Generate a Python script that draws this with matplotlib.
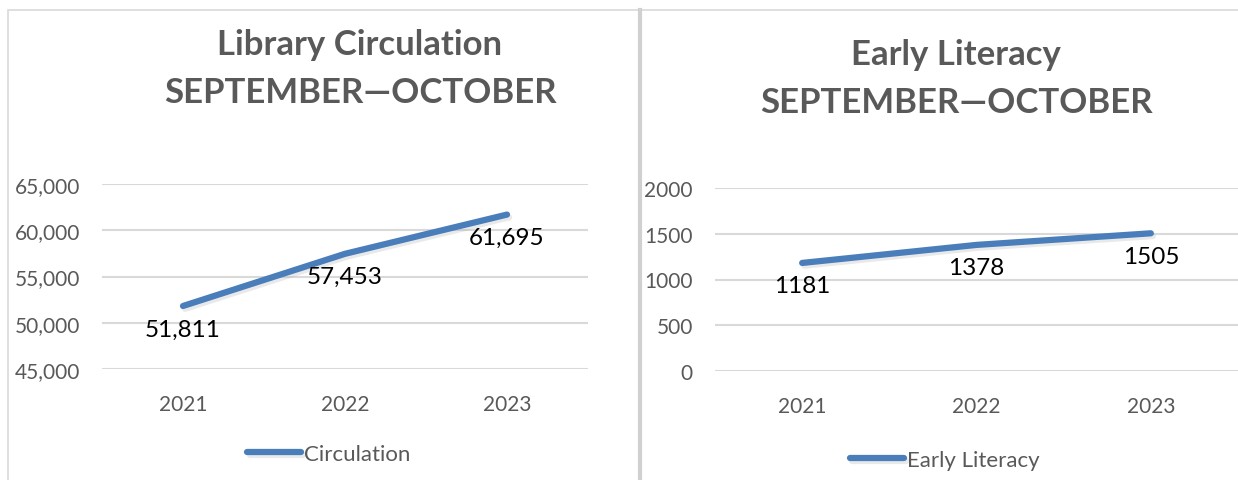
import matplotlib
matplotlib.use('Agg')
import matplotlib.pyplot as plt
import matplotlib.patheffects as pe
from matplotlib.patches import Rectangle

plt.rcParams['font.family'] = ['Lato', 'DejaVu Sans']

years = ['2021', '2022', '2023']
circulation = [51811, 57453, 61695]
circ_labels = ['51,811', '57,453', '61,695']
literacy = [1181, 1378, 1505]
lit_labels = ['1181', '1378', '1505']

blue = '#4a7ebb'
grey_text = '#595959'
grid_c = '#d9d9d9'

fig = plt.figure(figsize=(12.38, 4.81), dpi=100)
W, H = 1238, 481

# panel frames
fig.add_artist(Rectangle((8 / W, -0.1), 632 / W, 1.1 - 11 / H, transform=fig.transFigure,
                         fill=False, edgecolor=grid_c, lw=1.2))
fig.add_artist(Rectangle((640 / W, -0.1), 0.6, 1.1 - 11 / H, transform=fig.transFigure,
                         fill=False, edgecolor=grid_c, lw=1.2))
fig.add_artist(plt.Line2D([639.5 / W, 639.5 / W], [0, 1 - 11 / H], transform=fig.transFigure,
                          color='#d0d0d0', lw=3))


def panel(rect, vals, labels, ylim, yticks, yfmt, title, title_xy, series, leg_xy):
    ax = fig.add_axes(rect)
    x = range(len(years))
    ax.plot(x, vals, color=blue, lw=4.5, solid_capstyle='round', label=series,
            path_effects=[pe.SimpleLineShadow(offset=(1.5, -2), shadow_color='#aaaaaa', alpha=0.25),
                          pe.Normal()], zorder=3)
    for xi, v, lab in zip(x, vals, labels):
        ax.annotate(lab, (xi, v), xytext=(0, -9), textcoords='offset points',
                    ha='center', va='top', fontsize=17.5, color='black')
    ax.set_xlim(-0.5, len(years) - 0.5)
    ax.set_ylim(*ylim)
    ax.set_yticks(yticks)
    ax.set_yticklabels([yfmt(t) for t in yticks])
    ax.set_xticks(list(x))
    ax.set_xticklabels(years)
    ax.tick_params(length=0, labelsize=15, colors=grey_text)
    ax.tick_params(axis='x', pad=18)
    ax.tick_params(axis='y', pad=16)
    for s in ax.spines.values():
        s.set_visible(False)
    ax.grid(axis='y', color=grid_c, lw=1.5)
    ax.set_axisbelow(True)
    ax.patch.set_alpha(0)
    fig.text(title_xy[0], title_xy[1], title, ha='center', va='center', fontsize=25,
             fontweight='bold', color=grey_text, linespacing=1.6)
    fig.legend(handles=ax.get_lines()[:1], loc='center', bbox_to_anchor=leg_xy,
               frameon=False, fontsize=16, handlelength=2.4, handletextpad=0.15,
               labelcolor=grey_text)
    return ax


panel([102 / W, 1 - 370 / H, 486 / W, 185 / H], circulation, circ_labels,
      (45000, 65000), [45000, 50000, 55000, 60000, 65000], lambda t: f'{t:,}',
      'Library Circulation\nSEPTEMBER\u2014OCTOBER', (360 / W, 1 - 69 / H),
      'Circulation', (329 / W, 1 - 455 / H))

panel([715 / W, 1 - 372 / H, 523 / W, 183 / H], literacy, lit_labels,
      (0, 2000), [0, 500, 1000, 1500, 2000], lambda t: f'{t}',
      'Early Literacy\nSEPTEMBER\u2014OCTOBER', (956 / W, 1 - 79 / H),
      'Early Literacy', (945 / W, 1 - 461 / H))

fig.savefig('out.png', dpi=100)
